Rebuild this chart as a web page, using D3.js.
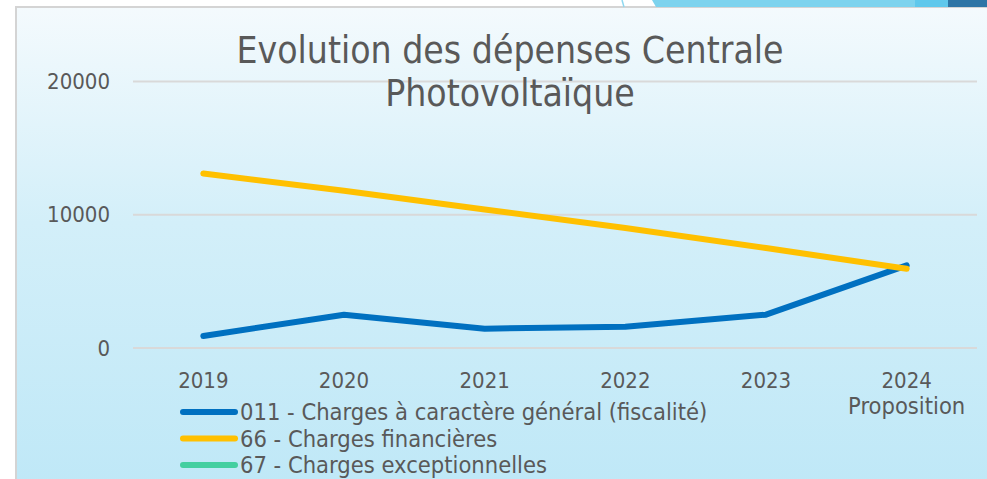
<!DOCTYPE html>
<html lang="fr">
<head>
  <meta charset="UTF-8">
  <title>Evolution des dépenses Centrale Photovoltaïque</title>
  <script src="https://d3js.org/d3.v7.min.js"></script>
  <style>
    body { margin: 0; background: #fff; }
    svg { display: block; }
    text { font-family: "DejaVu Sans Condensed", "DejaVu Sans", sans-serif; fill: #595959; }
  </style>
</head>
<body>
  <div id="chart"></div>
  <script>
    const years = ["2019", "2020", "2021", "2022", "2023", "2024"];
    const yearLabels = [["2019"], ["2020"], ["2021"], ["2022"], ["2023"], ["2024", "Proposition"]];
    const charges011 = [900, 2500, 1450, 1600, 2500, 6200];
    const charges66 = [13100, 11800, 10400, 9000, 7500, 5950];
    const charges67 = [];
    const yTicks = [0, 10000, 20000];

    const series = [
      { name: "011 - Charges à caractère général (fiscalité)", color: "#0070c0", values: charges011 },
      { name: "66 - Charges financières", color: "#ffc000", values: charges66 },
      { name: "67 - Charges exceptionnelles", color: "#44cfa0", values: charges67 }
    ];

    const width = 987, height = 479;
    const svg = d3.select("#chart").append("svg")
      .attr("width", width).attr("height", height);

    // background panel
    const defs = svg.append("defs");
    const grad = defs.append("linearGradient").attr("id", "bg")
      .attr("x1", 0).attr("y1", 0).attr("x2", 0).attr("y2", 1);
    grad.append("stop").attr("offset", "0%").attr("stop-color", "#f4fafd");
    grad.append("stop").attr("offset", "45%").attr("stop-color", "#d3eff9");
    grad.append("stop").attr("offset", "100%").attr("stop-color", "#bfe8f7");

    svg.append("rect").attr("x", 16).attr("y", 7).attr("width", width).attr("height", height)
      .attr("fill", "url(#bg)").attr("stroke", "#d4d4d4").attr("stroke-width", 2);

    // top-right decoration
    svg.append("polygon").attr("points", "652,0 987,0 987,7 656,7").attr("fill", "#7dd3ee");
    svg.append("rect").attr("x", 915).attr("y", 0).attr("width", 33).attr("height", 7).attr("fill", "#5fc8ec");
    svg.append("rect").attr("x", 948).attr("y", 0).attr("width", 39).attr("height", 7).attr("fill", "#2e75a6");
    svg.append("line").attr("x1", 622).attr("y1", 0).attr("x2", 624).attr("y2", 7)
      .attr("stroke", "#8fd8f0").attr("stroke-width", 1.5);

    const x = d3.scaleBand().domain(years).range([133, 977]);
    const y = d3.scaleLinear().domain([0, 20000]).range([348, 81.5]);

    // gridlines
    svg.append("g").selectAll("line").data(yTicks).join("line")
      .attr("x1", 133).attr("x2", 977)
      .attr("y1", d => y(d)).attr("y2", d => y(d))
      .attr("stroke", "#d9d9d9").attr("stroke-width", 2);

    // y axis labels
    const yAxis = d3.axisLeft(y).tickValues(yTicks).tickSize(0).tickPadding(0).tickFormat(d3.format("d"));
    svg.append("g").attr("transform", "translate(110,0)").call(yAxis)
      .call(g => g.select(".domain").remove())
      .selectAll("text").attr("font-size", 22).attr("fill", "#595959")
      .attr("font-family", "\"DejaVu Sans Condensed\", \"DejaVu Sans\", sans-serif");

    // x axis labels
    const xl = svg.append("g").selectAll("text").data(years).join("text")
      .attr("x", d => x(d) + x.bandwidth() / 2)
      .attr("y", 388)
      .attr("text-anchor", "middle").attr("font-size", 22);
    xl.selectAll("tspan").data((d, i) => yearLabels[i]).join("tspan")
      .attr("x", function () { return d3.select(this.parentNode).attr("x"); })
      .attr("dy", (d, i) => i === 0 ? 0 : 26)
      .attr("font-size", (d, i) => i === 0 ? 22 : 23.5)
      .text(d => d);

    // title
    svg.append("text").attr("x", 510).attr("y", 63).attr("text-anchor", "middle")
      .attr("font-size", 37).text("Evolution des dépenses Centrale");
    svg.append("text").attr("x", 510).attr("y", 106).attr("text-anchor", "middle")
      .attr("font-size", 37).text("Photovoltaïque");

    // lines
    const line = d3.line()
      .x((d, i) => x(years[i]) + x.bandwidth() / 2)
      .y(d => y(d));
    svg.append("g").selectAll("path").data(series.filter(s => s.values.length)).join("path")
      .attr("d", s => line(s.values))
      .attr("fill", "none").attr("stroke", s => s.color)
      .attr("stroke-width", 6).attr("stroke-linecap", "round").attr("stroke-linejoin", "round");

    // legend
    const leg = svg.append("g").selectAll("g").data(series).join("g")
      .attr("transform", (d, i) => `translate(0,${412 + i * 26.5})`);
    leg.append("line").attr("x1", 183).attr("x2", 235).attr("y1", 0).attr("y2", 0)
      .attr("stroke", d => d.color).attr("stroke-width", 6).attr("stroke-linecap", "round");
    leg.append("text").attr("x", 240).attr("y", 8).attr("font-size", 23.5).text(d => d.name);
  </script>
</body>
</html>
